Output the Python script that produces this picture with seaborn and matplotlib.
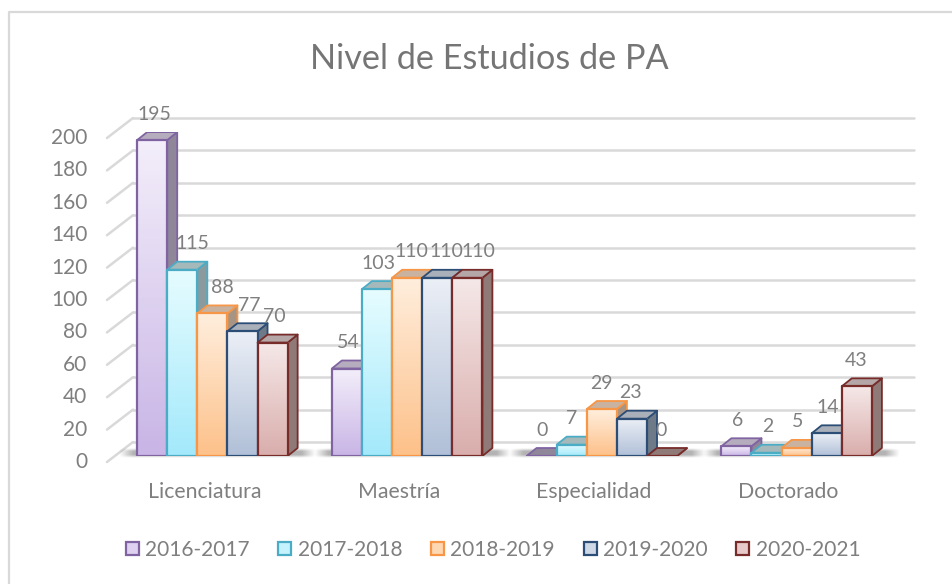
import numpy as np
import pandas as pd
import matplotlib
matplotlib.use("Agg")
import matplotlib.pyplot as plt
import seaborn as sns
from matplotlib.colors import LinearSegmentedColormap, to_rgb
from matplotlib.patches import Polygon, Rectangle
from matplotlib.transforms import Affine2D

categories = ["Licenciatura", "Maestría", "Especialidad", "Doctorado"]
years = ["2016-2017", "2017-2018", "2018-2019", "2019-2020", "2020-2021"]
v2016 = [195, 54, 0, 6]
v2017 = [115, 103, 7, 2]
v2018 = [88, 110, 29, 5]
v2019 = [77, 110, 23, 14]
v2020 = [70, 110, 0, 43]
series = [v2016, v2017, v2018, v2019, v2020]
title = "Nivel de Estudios de PA"

edge = ["#8064a2", "#4bacc6", "#f79646", "#2c4d75", "#772c2a"]
top_col = ["#f3eefa", "#e6fcff", "#ffeedd", "#ebeff6", "#f5e8e8"]
bot_col = ["#c9b5e6", "#a3e9fb", "#fdc18a", "#b1c0d8", "#d9aeac"]
lid_col = ["#b5adbd", "#a6b9ba", "#c9b29f", "#aab0b9", "#b5a7a7"]
side_col = ["#8f8799", "#8b9b9d", "#a69484", "#6f7a88", "#8f7a78"]
grey = "#7f7f7f"
grid_col = "#d9d9d9"

# horizontal nudge of the value labels, per group then per year (pixels)
label_nudge = [[2, 10, 10, 7, 2], [1, 1, 4, 9, 11], [0, 0, 0, -2, -1], [1, 1, 1, 1, -1]]

W, H, DPI = 953, 584, 100
DX, DY = 10, 8          # bar depth in pixels

sns.set_theme(style="white")
plt.rcParams["font.family"] = ["Lato", "DejaVu Sans"]

fig = plt.figure(figsize=(W / DPI, H / DPI), dpi=DPI, facecolor="white")
fig.add_artist(plt.Line2D([9 / W, 9 / W, 1], [0, 1 - 12 / H, 1 - 12 / H], transform=fig.transFigure,
                          color="#d9d9d9", lw=1.6, zorder=-1))

# plot box of the bars' front plane, in pixels
L, R, T, B = 115, 894, 132, 456
ax = fig.add_axes([L / W, 1 - B / H, (R - L) / W, (B - T) / H])
ax.patch.set_alpha(0)

df = pd.DataFrame({"cat": np.repeat(categories, len(years)),
                   "year": years * len(categories),
                   "val": [s[i] for i in range(len(categories)) for s in series]})
sns.barplot(data=df, x="cat", y="val", hue="year", hue_order=years, order=categories,
            width=0.773, gap=0, dodge=True, legend=False, ax=ax, zorder=3)
ax.set_xlim(-0.5, 3.5)
ax.set_ylim(0, 200)
sns.despine(ax=ax, left=True, bottom=True, top=True, right=True)
ax.set_xlabel("")
ax.set_ylabel("")

# walls: gridlines on the back plane and slanted floor/side lines
yticks = np.arange(0, 201, 20)
ax.set_yticks(yticks)
ax.tick_params(axis="y", length=0, pad=20, labelsize=15, labelcolor=grey)
ax.tick_params(axis="x", length=0, pad=19, labelsize=15.3, labelcolor=grey)
for lab in ax.get_yticklabels():
    lab.set_transform(lab.get_transform() + Affine2D().translate(0, -4))
for lab in ax.get_xticklabels():
    lab.set_transform(lab.get_transform() + Affine2D().translate(-8, 0))
for yv in yticks:
    _, yp = ax.transData.transform((0, yv))
    ax.add_artist(plt.Line2D([133, 914], [yp + 14, yp + 14], transform=None, color=grid_col,
                             lw=1.8, zorder=1, clip_on=False))
    ax.add_artist(plt.Line2D([107, 133], [yp - 6, yp + 14], transform=None, color=grid_col,
                             lw=1.8, zorder=1, clip_on=False))

# 3-D look for every bar that seaborn drew
bars = [p for p in ax.patches if isinstance(p, Rectangle)]
n_cat, n_yr = len(categories), len(years)
by_pos = sorted(bars, key=lambda p: p.get_x())
for g in range(n_cat):
    group = by_pos[g * n_yr:(g + 1) * n_yr]
    x0, _ = ax.transData.transform((group[0].get_x(), 0))
    x1, y0 = ax.transData.transform((group[-1].get_x() + group[-1].get_width(), 0))
    # floor shadow
    xs = np.linspace(-1, 1, 300)
    ys = np.linspace(-1, 1, 30)
    fade = np.clip((1 - np.abs(xs)) * 7, 0, 1)[None, :] * np.clip((1 - np.abs(ys)) * 1.6, 0, 1)[:, None]
    shade = np.zeros((30, 300, 4))
    shade[..., 3] = fade * 0.3
    im = ax.imshow(shade, extent=(x0 - 18, x1 + 28, y0 - 2, y0 + 8), transform=None,
                   aspect="auto", interpolation="bilinear", zorder=2)
    im.set_clip_on(False)
    for j, p in enumerate(group):
        p.set_facecolor("none")
        p.set_edgecolor("none")
        val = series[j][g]
        (xa, ya) = ax.transData.transform((p.get_x(), 0))
        (xb, yb) = ax.transData.transform((p.get_x() + p.get_width(), val))
        z = 3 + j * 0.1
        cmap = LinearSegmentedColormap.from_list("g", [to_rgb(top_col[j]), to_rgb(bot_col[j])])
        ax.add_patch(Polygon([(xb, ya), (xb + DX, ya + DY), (xb + DX, yb + DY), (xb, yb)],
                             closed=True, transform=None, fc=side_col[j], ec=edge[j], lw=1.3,
                             zorder=z, joinstyle="round"))
        ax.add_patch(Polygon([(xa, yb), (xa + DX, yb + DY), (xb + DX, yb + DY), (xb, yb)],
                             closed=True, transform=None, fc=lid_col[j] if val > 0 else side_col[j],
                             ec=edge[j], lw=1.3, zorder=z, joinstyle="round"))
        front = Rectangle((xa, ya), xb - xa, yb - ya, transform=None, fc="none", ec=edge[j],
                          lw=1.6, zorder=z + 0.02, joinstyle="round")
        if val > 0:
            img = ax.imshow(np.linspace(0, 1, 64)[:, None], cmap=cmap, vmin=0, vmax=1,
                            extent=(xa, xb, ya, yb), origin="upper", transform=None,
                            aspect="auto", zorder=z + 0.01)
            img.set_clip_on(False)
        ax.add_patch(front)
        ax.annotate(str(val), (p.get_x() + p.get_width() / 2, val), xytext=(label_nudge[g][j], 26),
                    textcoords="offset pixels", ha="center", va="center", fontsize=14,
                    color=grey, zorder=6, annotation_clip=False)

ax.set_xlim(-0.5, 3.5)
ax.set_ylim(0, 200)

fig.text(489.5 / W, 1 - 59 / H, title, ha="center", va="center", fontsize=24.7, color="#757575")

handles = [Rectangle((0, 0), 1, 1, fc=tuple((np.array(to_rgb(top_col[j])) + np.array(to_rgb(bot_col[j]))) / 2),
                     ec=edge[j], lw=1.6) for j in range(n_yr)]
fig.legend(handles, years, loc="center", bbox_to_anchor=(493 / W, 1 - 550 / H), ncols=5, frameon=False,
           fontsize=15, labelcolor=grey, handlelength=0.62, handleheight=0.62, handletextpad=0.3,
           columnspacing=1.39, borderpad=0)

fig.savefig("out.png", dpi=DPI)
